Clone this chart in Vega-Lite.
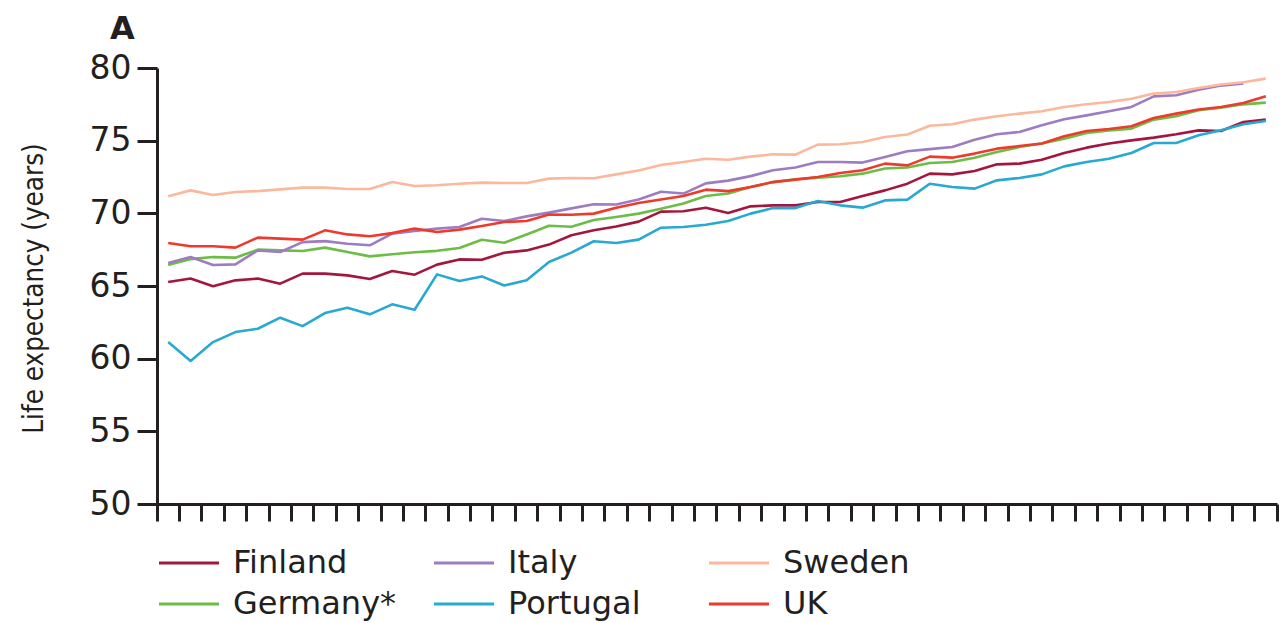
{
  "$schema": "https://vega.github.io/schema/vega-lite/v6.json",
  "autosize": "none",
  "padding": {"left": 157, "top": 68, "right": 4, "bottom": 119},
  "width": 1120,
  "height": 436,
  "background": "white",
  "title": {"text": "A", "anchor": "start", "frame": "group", "fontSize": 32, "fontWeight": "bold", "font": "DejaVu Sans", "color": "#231f20", "dx": -47, "offset": 6},
  "config": {"view": {"stroke": null}},
  "datasets": {
    "series": [
      {"country":"Finland","year":1951,"value":65.27},{"country":"Finland","year":1952,"value":65.51},{"country":"Finland","year":1953,"value":64.98},{"country":"Finland","year":1954,"value":65.39},{"country":"Finland","year":1955,"value":65.51},{"country":"Finland","year":1956,"value":65.16},{"country":"Finland","year":1957,"value":65.85},{"country":"Finland","year":1958,"value":65.85},{"country":"Finland","year":1959,"value":65.73},{"country":"Finland","year":1960,"value":65.48},
      {"country":"Finland","year":1961,"value":66.03},{"country":"Finland","year":1962,"value":65.78},{"country":"Finland","year":1963,"value":66.47},{"country":"Finland","year":1964,"value":66.83},{"country":"Finland","year":1965,"value":66.81},{"country":"Finland","year":1966,"value":67.29},{"country":"Finland","year":1967,"value":67.45},{"country":"Finland","year":1968,"value":67.85},{"country":"Finland","year":1969,"value":68.49},{"country":"Finland","year":1970,"value":68.83},
      {"country":"Finland","year":1971,"value":69.10},{"country":"Finland","year":1972,"value":69.43},{"country":"Finland","year":1973,"value":70.12},{"country":"Finland","year":1974,"value":70.14},{"country":"Finland","year":1975,"value":70.39},{"country":"Finland","year":1976,"value":70.02},{"country":"Finland","year":1977,"value":70.48},{"country":"Finland","year":1978,"value":70.55},{"country":"Finland","year":1979,"value":70.55},{"country":"Finland","year":1980,"value":70.78},
      {"country":"Finland","year":1981,"value":70.78},{"country":"Finland","year":1982,"value":71.19},{"country":"Finland","year":1983,"value":71.58},{"country":"Finland","year":1984,"value":72.04},{"country":"Finland","year":1985,"value":72.73},{"country":"Finland","year":1986,"value":72.68},{"country":"Finland","year":1987,"value":72.91},{"country":"Finland","year":1988,"value":73.37},{"country":"Finland","year":1989,"value":73.42},{"country":"Finland","year":1990,"value":73.69},
      {"country":"Finland","year":1991,"value":74.15},{"country":"Finland","year":1992,"value":74.52},{"country":"Finland","year":1993,"value":74.80},{"country":"Finland","year":1994,"value":75.02},{"country":"Finland","year":1995,"value":75.21},{"country":"Finland","year":1996,"value":75.44},{"country":"Finland","year":1997,"value":75.71},{"country":"Finland","year":1998,"value":75.66},{"country":"Finland","year":1999,"value":76.28},{"country":"Finland","year":2000,"value":76.45},

      {"country":"Germany*","year":1951,"value":66.44},{"country":"Germany*","year":1952,"value":66.85},{"country":"Germany*","year":1953,"value":66.99},{"country":"Germany*","year":1954,"value":66.95},{"country":"Germany*","year":1955,"value":67.50},{"country":"Germany*","year":1956,"value":67.45},{"country":"Germany*","year":1957,"value":67.41},{"country":"Germany*","year":1958,"value":67.64},{"country":"Germany*","year":1959,"value":67.34},{"country":"Germany*","year":1960,"value":67.04},
      {"country":"Germany*","year":1961,"value":67.19},{"country":"Germany*","year":1962,"value":67.32},{"country":"Germany*","year":1963,"value":67.42},{"country":"Germany*","year":1964,"value":67.61},{"country":"Germany*","year":1965,"value":68.18},{"country":"Germany*","year":1966,"value":67.98},{"country":"Germany*","year":1967,"value":68.55},{"country":"Germany*","year":1968,"value":69.15},{"country":"Germany*","year":1969,"value":69.08},{"country":"Germany*","year":1970,"value":69.54},
      {"country":"Germany*","year":1971,"value":69.75},{"country":"Germany*","year":1972,"value":69.98},{"country":"Germany*","year":1973,"value":70.32},{"country":"Germany*","year":1974,"value":70.67},{"country":"Germany*","year":1975,"value":71.19},{"country":"Germany*","year":1976,"value":71.36},{"country":"Germany*","year":1977,"value":71.81},{"country":"Germany*","year":1978,"value":72.15},{"country":"Germany*","year":1979,"value":72.34},{"country":"Germany*","year":1980,"value":72.46},
      {"country":"Germany*","year":1981,"value":72.55},{"country":"Germany*","year":1982,"value":72.73},{"country":"Germany*","year":1983,"value":73.08},{"country":"Germany*","year":1984,"value":73.15},{"country":"Germany*","year":1985,"value":73.46},{"country":"Germany*","year":1986,"value":73.53},{"country":"Germany*","year":1987,"value":73.83},{"country":"Germany*","year":1988,"value":74.22},{"country":"Germany*","year":1989,"value":74.56},{"country":"Germany*","year":1990,"value":74.80},
      {"country":"Germany*","year":1991,"value":75.14},{"country":"Germany*","year":1992,"value":75.53},{"country":"Germany*","year":1993,"value":75.71},{"country":"Germany*","year":1994,"value":75.83},{"country":"Germany*","year":1995,"value":76.45},{"country":"Germany*","year":1996,"value":76.68},{"country":"Germany*","year":1997,"value":77.09},{"country":"Germany*","year":1998,"value":77.27},{"country":"Germany*","year":1999,"value":77.50},{"country":"Germany*","year":2000,"value":77.62},

      {"country":"Italy","year":1951,"value":66.58},{"country":"Italy","year":1952,"value":66.99},{"country":"Italy","year":1953,"value":66.44},{"country":"Italy","year":1954,"value":66.49},{"country":"Italy","year":1955,"value":67.45},{"country":"Italy","year":1956,"value":67.34},{"country":"Italy","year":1957,"value":68.02},{"country":"Italy","year":1958,"value":68.09},{"country":"Italy","year":1959,"value":67.91},{"country":"Italy","year":1960,"value":67.80},
      {"country":"Italy","year":1961,"value":68.60},{"country":"Italy","year":1962,"value":68.78},{"country":"Italy","year":1963,"value":68.95},{"country":"Italy","year":1964,"value":69.06},{"country":"Italy","year":1965,"value":69.63},{"country":"Italy","year":1966,"value":69.47},{"country":"Italy","year":1967,"value":69.79},{"country":"Italy","year":1968,"value":70.05},{"country":"Italy","year":1969,"value":70.34},{"country":"Italy","year":1970,"value":70.62},
      {"country":"Italy","year":1971,"value":70.61},{"country":"Italy","year":1972,"value":70.95},{"country":"Italy","year":1973,"value":71.49},{"country":"Italy","year":1974,"value":71.36},{"country":"Italy","year":1975,"value":72.06},{"country":"Italy","year":1976,"value":72.25},{"country":"Italy","year":1977,"value":72.56},{"country":"Italy","year":1978,"value":72.96},{"country":"Italy","year":1979,"value":73.15},{"country":"Italy","year":1980,"value":73.53},
      {"country":"Italy","year":1981,"value":73.53},{"country":"Italy","year":1982,"value":73.49},{"country":"Italy","year":1983,"value":73.87},{"country":"Italy","year":1984,"value":74.27},{"country":"Italy","year":1985,"value":74.42},{"country":"Italy","year":1986,"value":74.56},{"country":"Italy","year":1987,"value":75.07},{"country":"Italy","year":1988,"value":75.44},{"country":"Italy","year":1989,"value":75.60},{"country":"Italy","year":1990,"value":76.06},
      {"country":"Italy","year":1991,"value":76.47},{"country":"Italy","year":1992,"value":76.74},{"country":"Italy","year":1993,"value":77.02},{"country":"Italy","year":1994,"value":77.32},{"country":"Italy","year":1995,"value":78.05},{"country":"Italy","year":1996,"value":78.12},{"country":"Italy","year":1997,"value":78.51},{"country":"Italy","year":1998,"value":78.79},{"country":"Italy","year":1999,"value":78.93},

      {"country":"Portugal","year":1951,"value":61.14},{"country":"Portugal","year":1952,"value":59.84},{"country":"Portugal","year":1953,"value":61.14},{"country":"Portugal","year":1954,"value":61.83},{"country":"Portugal","year":1955,"value":62.06},{"country":"Portugal","year":1956,"value":62.82},{"country":"Portugal","year":1957,"value":62.24},{"country":"Portugal","year":1958,"value":63.14},{"country":"Portugal","year":1959,"value":63.51},{"country":"Portugal","year":1960,"value":63.05},
      {"country":"Portugal","year":1961,"value":63.74},{"country":"Portugal","year":1962,"value":63.37},{"country":"Portugal","year":1963,"value":65.80},{"country":"Portugal","year":1964,"value":65.34},{"country":"Portugal","year":1965,"value":65.66},{"country":"Portugal","year":1966,"value":65.04},{"country":"Portugal","year":1967,"value":65.39},{"country":"Portugal","year":1968,"value":66.65},{"country":"Portugal","year":1969,"value":67.30},{"country":"Portugal","year":1970,"value":68.08},
      {"country":"Portugal","year":1971,"value":67.96},{"country":"Portugal","year":1972,"value":68.19},{"country":"Portugal","year":1973,"value":69.01},{"country":"Portugal","year":1974,"value":69.06},{"country":"Portugal","year":1975,"value":69.22},{"country":"Portugal","year":1976,"value":69.47},{"country":"Portugal","year":1977,"value":69.98},{"country":"Portugal","year":1978,"value":70.36},{"country":"Portugal","year":1979,"value":70.36},{"country":"Portugal","year":1980,"value":70.85},
      {"country":"Portugal","year":1981,"value":70.55},{"country":"Portugal","year":1982,"value":70.39},{"country":"Portugal","year":1983,"value":70.89},{"country":"Portugal","year":1984,"value":70.94},{"country":"Portugal","year":1985,"value":72.04},{"country":"Portugal","year":1986,"value":71.81},{"country":"Portugal","year":1987,"value":71.70},{"country":"Portugal","year":1988,"value":72.27},{"country":"Portugal","year":1989,"value":72.43},{"country":"Portugal","year":1990,"value":72.68},
      {"country":"Portugal","year":1991,"value":73.23},{"country":"Portugal","year":1992,"value":73.53},{"country":"Portugal","year":1993,"value":73.76},{"country":"Portugal","year":1994,"value":74.15},{"country":"Portugal","year":1995,"value":74.84},{"country":"Portugal","year":1996,"value":74.84},{"country":"Portugal","year":1997,"value":75.37},{"country":"Portugal","year":1998,"value":75.71},{"country":"Portugal","year":1999,"value":76.13},{"country":"Portugal","year":2000,"value":76.35},

      {"country":"Sweden","year":1951,"value":71.17},{"country":"Sweden","year":1952,"value":71.58},{"country":"Sweden","year":1953,"value":71.26},{"country":"Sweden","year":1954,"value":71.47},{"country":"Sweden","year":1955,"value":71.53},{"country":"Sweden","year":1956,"value":71.65},{"country":"Sweden","year":1957,"value":71.77},{"country":"Sweden","year":1958,"value":71.77},{"country":"Sweden","year":1959,"value":71.67},{"country":"Sweden","year":1960,"value":71.67},
      {"country":"Sweden","year":1961,"value":72.15},{"country":"Sweden","year":1962,"value":71.88},{"country":"Sweden","year":1963,"value":71.93},{"country":"Sweden","year":1964,"value":72.04},{"country":"Sweden","year":1965,"value":72.11},{"country":"Sweden","year":1966,"value":72.09},{"country":"Sweden","year":1967,"value":72.09},{"country":"Sweden","year":1968,"value":72.39},{"country":"Sweden","year":1969,"value":72.43},{"country":"Sweden","year":1970,"value":72.41},
      {"country":"Sweden","year":1971,"value":72.68},{"country":"Sweden","year":1972,"value":72.95},{"country":"Sweden","year":1973,"value":73.33},{"country":"Sweden","year":1974,"value":73.53},{"country":"Sweden","year":1975,"value":73.76},{"country":"Sweden","year":1976,"value":73.69},{"country":"Sweden","year":1977,"value":73.90},{"country":"Sweden","year":1978,"value":74.06},{"country":"Sweden","year":1979,"value":74.04},{"country":"Sweden","year":1980,"value":74.73},
      {"country":"Sweden","year":1981,"value":74.75},{"country":"Sweden","year":1982,"value":74.91},{"country":"Sweden","year":1983,"value":75.25},{"country":"Sweden","year":1984,"value":75.42},{"country":"Sweden","year":1985,"value":76.03},{"country":"Sweden","year":1986,"value":76.13},{"country":"Sweden","year":1987,"value":76.45},{"country":"Sweden","year":1988,"value":76.68},{"country":"Sweden","year":1989,"value":76.86},{"country":"Sweden","year":1990,"value":77.02},
      {"country":"Sweden","year":1991,"value":77.32},{"country":"Sweden","year":1992,"value":77.50},{"country":"Sweden","year":1993,"value":77.66},{"country":"Sweden","year":1994,"value":77.89},{"country":"Sweden","year":1995,"value":78.24},{"country":"Sweden","year":1996,"value":78.35},{"country":"Sweden","year":1997,"value":78.62},{"country":"Sweden","year":1998,"value":78.86},{"country":"Sweden","year":1999,"value":79.02},{"country":"Sweden","year":2000,"value":79.27},

      {"country":"UK","year":1951,"value":67.96},{"country":"UK","year":1952,"value":67.73},{"country":"UK","year":1953,"value":67.73},{"country":"UK","year":1954,"value":67.64},{"country":"UK","year":1955,"value":68.33},{"country":"UK","year":1956,"value":68.26},{"country":"UK","year":1957,"value":68.19},{"country":"UK","year":1958,"value":68.83},{"country":"UK","year":1959,"value":68.55},{"country":"UK","year":1960,"value":68.42},
      {"country":"UK","year":1961,"value":68.64},{"country":"UK","year":1962,"value":68.95},{"country":"UK","year":1963,"value":68.71},{"country":"UK","year":1964,"value":68.88},{"country":"UK","year":1965,"value":69.13},{"country":"UK","year":1966,"value":69.40},{"country":"UK","year":1967,"value":69.47},{"country":"UK","year":1968,"value":69.92},{"country":"UK","year":1969,"value":69.90},{"country":"UK","year":1970,"value":69.98},
      {"country":"UK","year":1971,"value":70.38},{"country":"UK","year":1972,"value":70.71},{"country":"UK","year":1973,"value":70.95},{"country":"UK","year":1974,"value":71.19},{"country":"UK","year":1975,"value":71.63},{"country":"UK","year":1976,"value":71.53},{"country":"UK","year":1977,"value":71.81},{"country":"UK","year":1978,"value":72.15},{"country":"UK","year":1979,"value":72.32},{"country":"UK","year":1980,"value":72.50},
      {"country":"UK","year":1981,"value":72.77},{"country":"UK","year":1982,"value":72.96},{"country":"UK","year":1983,"value":73.42},{"country":"UK","year":1984,"value":73.30},{"country":"UK","year":1985,"value":73.90},{"country":"UK","year":1986,"value":73.83},{"country":"UK","year":1987,"value":74.11},{"country":"UK","year":1988,"value":74.45},{"country":"UK","year":1989,"value":74.63},{"country":"UK","year":1990,"value":74.80},
      {"country":"UK","year":1991,"value":75.30},{"country":"UK","year":1992,"value":75.66},{"country":"UK","year":1993,"value":75.80},{"country":"UK","year":1994,"value":75.99},{"country":"UK","year":1995,"value":76.56},{"country":"UK","year":1996,"value":76.86},{"country":"UK","year":1997,"value":77.14},{"country":"UK","year":1998,"value":77.32},{"country":"UK","year":1999,"value":77.59},{"country":"UK","year":2000,"value":78.05}
    ]
  },
  "data": {"name": "series"},
  "mark": {"type": "line", "strokeWidth": 2.6, "strokeJoin": "round", "clip": false},
  "encoding": {
    "x": {
      "field": "year", "type": "ordinal", "bandPosition": 0.5,
      "scale": {"type": "band", "paddingInner": 0, "paddingOuter": 0},
      "axis": {"title": null, "labels": false, "bandPosition": 1, "tickExtra": true, "tickSize": 17, "tickWidth": 3, "tickColor": "#231f20", "domainColor": "#231f20", "domainWidth": 3, "grid": false}
    },
    "y": {
      "field": "value", "type": "quantitative",
      "scale": {"domain": [50, 80], "nice": false, "zero": false},
      "axis": {"values": [50, 55, 60, 65, 70, 75, 80], "title": "Life expectancy (years)", "grid": false, "tickSize": 20, "tickWidth": 3, "tickColor": "#231f20", "domainColor": "#231f20", "domainWidth": 3, "labelFont": "DejaVu Sans", "labelFontSize": 33, "labelColor": "#231f20", "labelPadding": 6, "titleFont": "DejaVu Sans Condensed, sans-serif", "titleFontSize": 27.5, "titleFontWeight": "normal", "titleColor": "#231f20", "titleX": -115, "titleY": 220, "titleAngle": -90, "titleAlign": "center", "titleBaseline": "alphabetic"}
    },
    "color": {
      "field": "country", "type": "nominal",
      "scale": {"domain": ["Finland", "Germany*", "Italy", "Portugal", "Sweden", "UK"], "range": ["#a3173f", "#6cbd45", "#9e7cc1", "#27a9d2", "#fbb89c", "#ee3a2c"]},
      "legend": {"orient": "none", "legendX": 16, "legendY": 479, "columns": 3, "gridAlign": "all", "columnPadding": 31, "rowPadding": 9, "symbolType": "M-3,0H3", "symbolSize": 400, "symbolStrokeWidth": 3, "symbolFillColor": "transparent", "labelFont": "DejaVu Sans", "labelFontSize": 32, "labelColor": "#231f20", "labelOffset": 28, "labelLimit": 0, "title": null}
    }
  }
}
